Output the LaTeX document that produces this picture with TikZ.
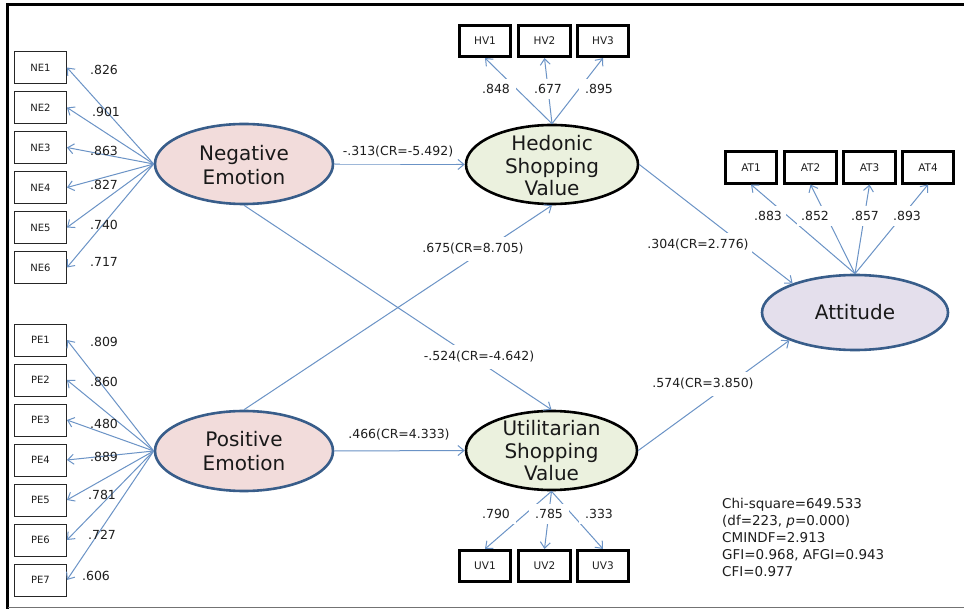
\documentclass[tikz,border=0pt]{standalone}
\usepackage{fontspec}
\setmainfont{DejaVu Sans}
\usetikzlibrary{shapes.geometric,arrows.meta}
\definecolor{ln}{HTML}{6B93C6}
\definecolor{lvb}{HTML}{385D8A}
\definecolor{pinkf}{HTML}{F2DCDB}
\definecolor{greenf}{HTML}{EBF1DE}
\definecolor{lavf}{HTML}{E4DFEC}
\definecolor{txt}{HTML}{1E1E1E}
\tikzset{
  lat/.style={ellipse, line width=2.6pt, inner sep=0pt},
  lattext/.style={align=center, text=black!90, font=\fontsize{20}{24}\selectfont, inner sep=0pt},
  obsthin/.style={draw=black!85, line width=0.9pt, minimum width=52pt, minimum height=32pt, inner sep=0pt, text=txt, font=\fontsize{10}{12}\selectfont},
  obsthick/.style={draw=black, line width=2.6pt, minimum width=51.5pt, minimum height=31.5pt, inner sep=0pt, text=txt, font=\fontsize{10.5}{12}\selectfont},
  conn/.style={draw=ln, line width=1pt, -{Straight Barb[length=6pt,width=10pt]}},
  load/.style={text=txt, inner sep=0pt, font=\fontsize{12.5}{15}\selectfont},
  loadw/.style={load, fill=white, inner xsep=6pt, inner ysep=5pt},
  coef/.style={load, fill=white, inner xsep=3pt, inner ysep=6pt},
}
\begin{document}
\begin{tikzpicture}[x=1pt,y=-1pt]
\useasboundingbox (0,0) rectangle (964,609);
\fill[white] (0,0) rectangle (964,609);
% frame
\draw[black!35, line width=0.8pt] (7,3) -- (964,3);
\draw[black, line width=3pt] (7.5,609) -- (7.5,5) -- (964,5);
\draw[black!55, line width=1.2pt] (7.5,607.5) -- (964,607.5);

% latent variables
\node[lat, draw=lvb, fill=pinkf, minimum width=178pt, minimum height=80pt] (ne) at (244,164) {};
\node[lat, draw=lvb, fill=pinkf, minimum width=178pt, minimum height=80pt] (pe) at (244,451) {};
\node[lat, draw=black, fill=greenf, minimum width=172pt, minimum height=79pt] (hed) at (552,164.5) {};
\node[lat, draw=black, fill=greenf, minimum width=171pt, minimum height=79pt] (ut) at (551.5,450.5) {};
\node[lat, draw=lvb, fill=lavf, minimum width=186pt, minimum height=75pt] (att) at (855,312.5) {};

\node[lattext] (net) at (244,165) {Negative\\Emotion};
\node[lattext] (pet) at (244,451) {Positive\\Emotion};
\node[lattext, font=\fontsize{20}{22.5}\selectfont] (hedt) at (552,166) {Hedonic\\Shopping\\Value};
\node[lattext, font=\fontsize{20}{22.5}\selectfont] (utt) at (551.5,451) {Utilitarian\\Shopping\\Value};
\node[lattext] (attt) at (855,312) {Attitude};

% observed: NE
\foreach \i/\y in {1/67.5,2/107.5,3/147.5,4/187.5,5/227.5,6/267.5}{
  \node[obsthin] (ne\i) at (40.5,\y) {NE\i};
  \draw[conn] (ne.west) -- (ne\i.east);
}
\foreach \i/\y in {1/340,2/380,3/420,4/460,5/500,6/540,7/580}{
  \node[obsthin] (pe\i) at (40.5,\y) {PE\i};
  \draw[conn] (pe.west) -- (pe\i.east);
}
% loadings NE / PE
\node[load] (lne1) at (104,70) {.826};
\node[load] (lne2) at (106,112) {.901};
\node[load] (lne3) at (104,151) {.863};
\node[load] (lne4) at (104,185) {.827};
\node[load] (lne5) at (104,225) {.740};
\node[load] (lne6) at (104,262) {.717};
\node[load] (lpe1) at (104,342) {.809};
\node[load] (lpe2) at (104,382) {.860};
\node[load] (lpe3) at (104,424) {.480};
\node[load] (lpe4) at (104,457) {.889};
\node[load] (lpe5) at (102,495) {.781};
\node[load] (lpe6) at (102,535) {.727};
\node[load] (lpe7) at (96,576) {.606};

% HV
\foreach \i/\x in {1/485,2/544.5,3/603}{
  \node[obsthick] (hv\i) at (\x,41) {HV\i};
  \draw[conn] (hed.north) -- (hv\i.south);
}
\node[loadw] (lhv1) at (496,89) {.848};
\node[loadw] (lhv2) at (548,89) {.677};
\node[loadw] (lhv3) at (599,89) {.895};

% UV
\foreach \i/\x in {1/485,2/544.5,3/603}{
  \node[obsthick] (uv\i) at (\x,566) {UV\i};
  \draw[conn] (ut.south) -- (uv\i.north);
}
\node[loadw] (luv1) at (496,514) {.790};
\node[loadw] (luv2) at (549,514) {.785};
\node[loadw] (luv3) at (599,514) {.333};

% AT
\foreach \i/\x in {1/751,2/810.5,3/869.5,4/928}{
  \node[obsthick] (at\i) at (\x,167.5) {AT\i};
  \draw[conn] (att.north) -- (at\i.south);
}
\node[loadw, inner xsep=4pt] (lat1) at (768,216) {.883};
\node[loadw, inner xsep=4pt] (lat2) at (815,216) {.852};
\node[loadw, inner xsep=4pt] (lat3) at (865,216) {.857};
\node[loadw, inner xsep=4pt] (lat4) at (907,216) {.893};

% structural paths
\draw[conn] (ne.east) -- (hed.west);
\draw[conn] (pe.east) -- (ut.west);
\draw[conn] (ne.south) -- (ut.north);
\draw[conn] (pe.north) -- (hed.south);
\draw[conn] (hed.east) -- (att.155);
\draw[conn] (ut.east) -- (att.203);

\node[coef] (c1) at (398,152) {-.313(CR=-5.492)};
\node[coef] (c2) at (399,435) {.466(CR=4.333)};
\node[coef] (c3) at (473,249) {.675(CR=8.705)};
\node[coef] (c4) at (479,357) {-.524(CR=-4.642)};
\node[coef] (c5) at (698,245) {.304(CR=2.776)};
\node[coef] (c6) at (703,384) {.574(CR=3.850)};

% fit statistics
\node[anchor=west, align=left, text=txt, inner sep=0pt, font=\fontsize{13.5}{17}\selectfont] (fit) at (722,537)
 {Chi-square=649.533\\(df=223, \textit{p}=0.000)\\CMINDF=2.913\\GFI=0.968, AFGI=0.943\\CFI=0.977};
\end{tikzpicture}
\end{document}
